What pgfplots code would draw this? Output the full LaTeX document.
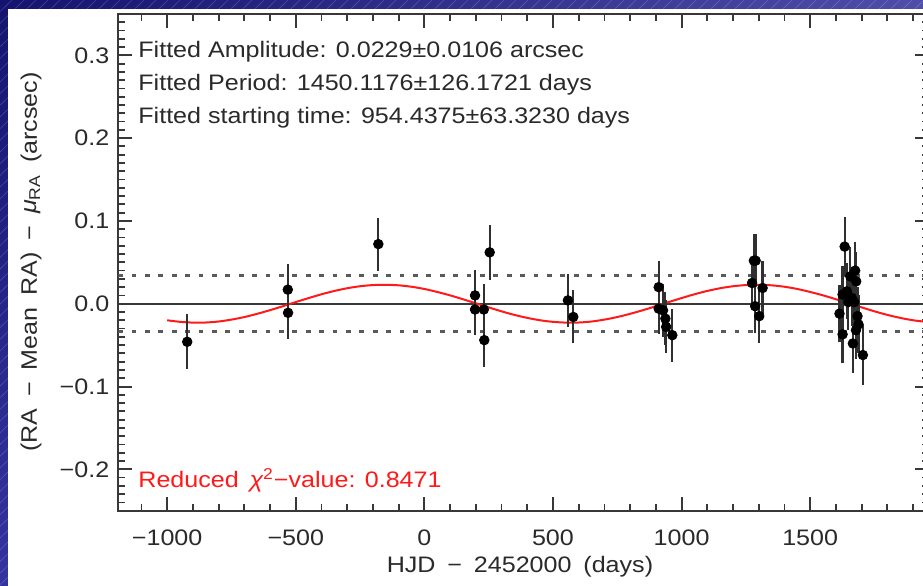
\documentclass[border=0pt]{standalone}
\usepackage{fontspec}
\setmainfont{Liberation Sans}[FakeStretch=1.12]
\newfontfamily\widefont{Liberation Sans}[FakeStretch=1.12, WordSpace=1.7]
\usepackage{pgfplots}
\pgfplotsset{compat=1.18}
\usetikzlibrary{shadings}
\definecolor{ink}{HTML}{2A2A2A}
\definecolor{axgray}{HTML}{383838}
\definecolor{errgray}{HTML}{303030}
\definecolor{dotgray}{HTML}{5A5A5A}
\definecolor{fitred}{HTML}{FF1A1A}
\definecolor{bgUL}{RGB}{20,20,112}
\definecolor{bgUR}{RGB}{78,78,170}
\definecolor{bgLL}{RGB}{52,52,160}
\definecolor{bgLR}{RGB}{80,80,176}
\newcommand{\lbl}{\fontsize{11.2}{14}\selectfont}
\newcommand{\axlbl}{\widefont\fontsize{11.2}{14}\selectfont}

% residual measurements: HJD-2452000, residual (arcsec), error
\pgfplotstableread{
x y e
-922 -0.046 0.033
-531 0.017 0.031
-530 -0.011 0.032
-179 0.072 0.032
197 0.010 0.031
197 -0.007 0.031
231 -0.007 0.031
233 -0.044 0.032
254 0.062 0.033
558 0.004 0.032
579 -0.016 0.032
911 0.020 0.031
911 -0.006 0.031
928 -0.008 0.032
937 -0.018 0.032
940 -0.028 0.032
964 -0.038 0.032
1274 0.025 0.031
1281 0.052 0.032
1288 0.052 0.032
1286 -0.003 0.032
1302 -0.015 0.032
1315 0.019 0.032
1614 -0.012 0.034
1626 -0.037 0.035
1626 0.011 0.034
1634 0.069 0.036
1643 0.015 0.034
1648 0.002 0.034
1656 0.033 0.035
1662 0.007 0.034
1666 -0.048 0.036
1671 0.002 0.034
1675 0.040 0.035
1679 0.027 0.035
1678 -0.032 0.035
1684 -0.015 0.035
1688 -0.025 0.035
1705 -0.062 0.036
}\resid

% fitted sine
\pgfplotstableread{
x y
-1000 -0.0200
-950 -0.0219
-900 -0.0228
-850 -0.0227
-800 -0.0215
-750 -0.0192
-700 -0.0161
-650 -0.0122
-600 -0.0078
-550 -0.0030
-500 0.0020
-450 0.0068
-400 0.0114
-350 0.0154
-300 0.0187
-250 0.0211
-200 0.0225
-150 0.0229
-100 0.0222
-50 0.0205
0 0.0178
50 0.0142
100 0.0101
150 0.0054
200 0.0005
250 -0.0044
300 -0.0092
350 -0.0135
400 -0.0171
450 -0.0200
500 -0.0219
550 -0.0228
600 -0.0227
650 -0.0215
700 -0.0192
750 -0.0161
800 -0.0122
850 -0.0078
900 -0.0030
950 0.0020
1000 0.0068
1050 0.0114
1100 0.0154
1150 0.0187
1200 0.0211
1250 0.0225
1300 0.0229
1350 0.0222
1400 0.0205
1450 0.0178
1500 0.0142
1550 0.0101
1600 0.0054
1650 0.0005
1700 -0.0044
1750 -0.0092
1800 -0.0135
1850 -0.0171
1900 -0.0200
1950 -0.0219
}\fit

\begin{document}
\begin{tikzpicture}
\useasboundingbox (0pt,0pt) rectangle (461.5pt,-292.5pt);
\clip (0pt,0pt) rectangle (461.5pt,-292.5pt);
\shade[upper left=bgUL, upper right=bgUR, lower left=bgLL, lower right=bgLR]
  (0pt,0pt) rectangle (461.5pt,-292.5pt);
\foreach \i in {0,...,130}
  \draw[white, opacity=0.18, line width=0.3pt] ({\i*6pt-300pt},-292.5pt) -- ({\i*6pt},0pt);
\fill[white] (4pt,-4.5pt) rectangle (466pt,-296pt);

\begin{axis}[
    at={(59.15pt,-255.35pt)}, anchor=south west,
    scale only axis,
    width=405.35pt, height=248.4pt,
    xmin=-1190, xmax=1962,
    ymin=-0.25, ymax=0.35,
    xtick={-1000,-500,0,500,1000,1500},
    xticklabels={−1000,−500,0,500,1000,1500},
    ytick={-0.2,-0.1,0,0.1,0.2,0.3},
    yticklabels={−0.2,−0.1,0.0,0.1,0.2,0.3},
    minor xtick={-1100,-1000,...,1900},
    minor ytick={-0.25,-0.24,...,0.355},
    xtick pos=both, ytick pos=both,
    tick align=inside,
    major tick length=7pt,
    minor tick length=3.6pt,
    tick style={draw=axgray, line width=1pt},
    minor tick style={draw=axgray, line width=0.9pt},
    axis line style={draw=axgray, line width=1pt},
    ticklabel style={font=\lbl, text=ink},
    xticklabel style={yshift=-6pt},
    yticklabel style={xshift=-1pt},
]
% zero line and dotted band
\addplot[axgray, line width=1pt] coordinates {(-1190,0) (1962,0)};
\addplot[dotgray, line width=1.5pt, dash pattern=on 2.4pt off 4.3pt] coordinates {(-1190,0.0335) (1962,0.0335)};
\addplot[dotgray, line width=1.5pt, dash pattern=on 2.4pt off 4.3pt] coordinates {(-1190,-0.0335) (1962,-0.0335)};
% fit
\addplot[fitred, line width=1pt, smooth] table[x=x,y=y] {\fit};
% data with error bars
\addplot[only marks, mark=*, mark size=2.4pt, black,
    error bars/.cd, y dir=both, y explicit, error mark=none,
    error bar style={errgray, line width=1.1pt}]
    table[x=x, y=y, y error=e] {\resid};
\end{axis}

\begin{scope}[x=0.5pt,y=-0.5pt]
  \node[anchor=base west, inner sep=0, text=ink, font=\lbl] at (138,57) {Fitted Amplitude: 0.0229±0.0106 arcsec};
  \node[anchor=base west, inner sep=0, text=ink, font=\lbl] at (138,90) {Fitted Period: 1450.1176±126.1721 days};
  \node[anchor=base west, inner sep=0, text=ink, font=\lbl] at (138,123) {Fitted starting time: 954.4375±63.3230 days};
  \node[anchor=base west, inner sep=0, text=fitred, font=\lbl] at (138,487) {Reduced\, {\itshape χ}\textsuperscript{2}−value: 0.8471};
  \node[anchor=center, inner sep=0, text=ink, font=\axlbl] at (520,567) {HJD − 2452000 (days)};
  \node[anchor=center, inner sep=0, text=ink, font=\axlbl, rotate=90] at (31,262) {(RA − Mean RA) − {\itshape μ}\textsubscript{RA} (arcsec)};
\end{scope}
\end{tikzpicture}
\end{document}
